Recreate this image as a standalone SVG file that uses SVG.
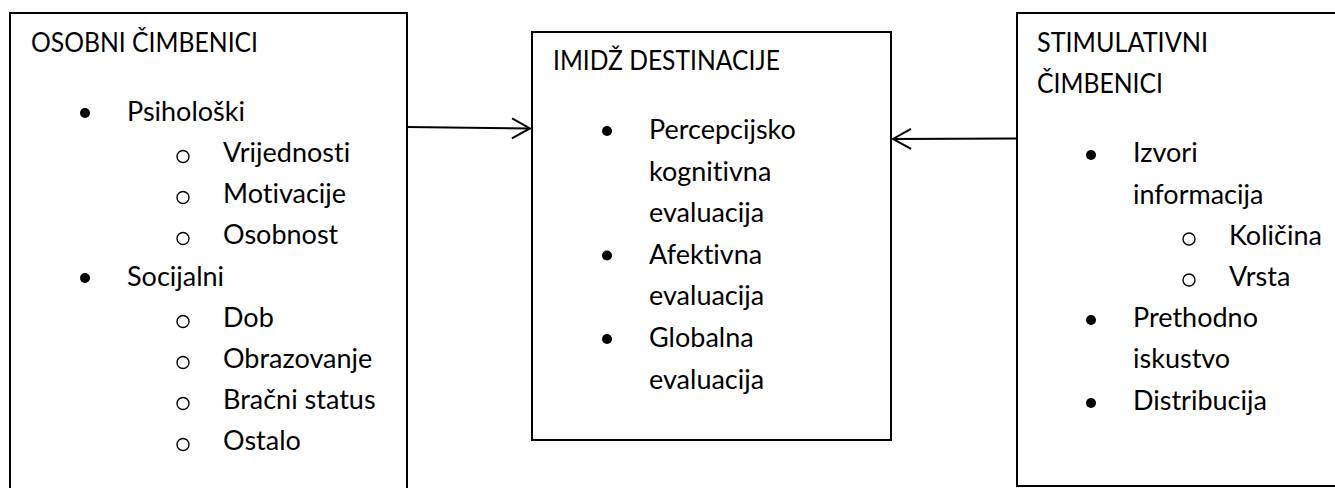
<svg xmlns="http://www.w3.org/2000/svg" width="1335" height="488" viewBox="0 0 1335 488">
<style>
.box{fill:#fff;stroke:#000;stroke-width:2}
text{font-family:Lato,"Liberation Sans",sans-serif;font-size:27px;fill:#000;font-variant-ligatures:none;font-feature-settings:"liga" 0,"dlig" 0}
.dot{fill:#000}
.ring{fill:none;stroke:#000;stroke-width:1.4}
.conn{stroke:#000;stroke-width:2;fill:none}
</style>
<defs>
<marker id="open" markerUnits="userSpaceOnUse" markerWidth="22" markerHeight="24" refX="20" refY="12" orient="auto">
<path d="M2,2 L20,12 L2,22" fill="none" stroke="#000" stroke-width="2"/>
</marker>
</defs>
<rect width="1335" height="488" fill="#fff"/>
<g id="osobni">
<rect class="box" x="10" y="13" width="397" height="490"/>
<text x="31" y="52" textLength="227" lengthAdjust="spacingAndGlyphs">OSOBNI ČIMBENICI</text>
<circle class="dot" cx="85" cy="113" r="5"/><text x="127" y="121">Psihološki</text>
<circle class="ring" cx="183" cy="156.5" r="6"/><text x="223" y="162">Vrijednosti</text>
<circle class="ring" cx="183" cy="197.5" r="6"/><text x="223" y="203">Motivacije</text>
<circle class="ring" cx="183" cy="238.5" r="6"/><text x="223" y="244">Osobnost</text>
<circle class="dot" cx="85" cy="278" r="5"/><text x="127" y="286">Socijalni</text>
<circle class="ring" cx="183" cy="321.5" r="6"/><text x="223" y="327">Dob</text>
<circle class="ring" cx="183" cy="362.5" r="6"/><text x="223" y="368">Obrazovanje</text>
<circle class="ring" cx="183" cy="403.5" r="6"/><text x="223" y="409">Bračni status</text>
<circle class="ring" cx="183" cy="444.5" r="6"/><text x="223" y="450">Ostalo</text>
</g>
<g id="imidz">
<rect class="box" x="532" y="32" width="359" height="408"/>
<text x="553" y="70" textLength="227" lengthAdjust="spacingAndGlyphs">IMIDŽ DESTINACIJE</text>
<circle class="dot" cx="607" cy="131" r="5"/><text x="649" y="139">Percepcijsko</text>
<text x="649" y="180.5">kognitivna</text>
<text x="649" y="222">evaluacija</text>
<circle class="dot" cx="607" cy="255.5" r="5"/><text x="649" y="263.5">Afektivna</text>
<text x="649" y="305">evaluacija</text>
<circle class="dot" cx="607" cy="339" r="5"/><text x="649" y="347">Globalna</text>
<text x="649" y="388.5">evaluacija</text>
</g>
<g id="stimulativni">
<rect class="box" x="1017" y="13" width="330" height="473"/>
<text x="1037" y="52" textLength="171" lengthAdjust="spacingAndGlyphs">STIMULATIVNI</text>
<text x="1037" y="93" textLength="126" lengthAdjust="spacingAndGlyphs">ČIMBENICI</text>
<circle class="dot" cx="1091" cy="155" r="5"/><text x="1133" y="162">Izvori</text>
<text x="1133" y="203.5">informacija</text>
<circle class="ring" cx="1189" cy="239" r="6"/><text x="1229" y="244.5">Količina</text>
<circle class="ring" cx="1189" cy="280" r="6"/><text x="1229" y="285.5">Vrsta</text>
<circle class="dot" cx="1091" cy="320" r="5"/><text x="1133" y="327">Prethodno</text>
<text x="1133" y="368">iskustvo</text>
<circle class="dot" cx="1091" cy="403" r="5"/><text x="1133" y="410">Distribucija</text>
</g>
<g id="connectors">
<line class="conn" x1="407" y1="127" x2="530" y2="128.5" marker-end="url(#open)"/>
<line class="conn" x1="1016" y1="138.5" x2="893" y2="139" marker-end="url(#open)"/>
</g>
</svg>
